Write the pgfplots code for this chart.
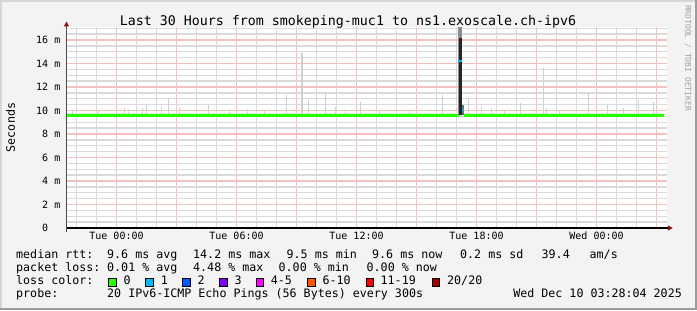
\documentclass[border=0pt]{standalone}
\usepackage{fontspec}
\setmainfont{DejaVu Sans Mono}
\usepackage{pgfplots}
\pgfplotsset{compat=1.18}
\usetikzlibrary{arrows.meta}
\definecolor{bgc}{HTML}{F3F3F3}
\definecolor{shadea}{HTML}{D6D6D6}
\definecolor{shadeb}{HTML}{9C9C9C}
\definecolor{majorgrid}{HTML}{F4C0C0}
\definecolor{minorgrid}{HTML}{DADADA}
\definecolor{arrowred}{HTML}{8E1010}
\definecolor{smoke}{HTML}{D0D0D0}
\definecolor{smokeband}{HTML}{E2E2E2}
\definecolor{medgreen}{HTML}{26FF00}
\definecolor{lossA}{HTML}{26FF00}
\definecolor{lossB}{HTML}{00B8FF}
\definecolor{lossC}{HTML}{0059FF}
\definecolor{lossD}{HTML}{7E00FF}
\definecolor{lossE}{HTML}{FF00FF}
\definecolor{lossF}{HTML}{FF5500}
\definecolor{lossG}{HTML}{FF0000}
\definecolor{lossH}{HTML}{A10000}
\definecolor{rrdgrey}{HTML}{A0A0A0}
\newcommand\tickfont{\fontsize{10bp}{12bp}\selectfont}
\newcommand\legfont{\fontsize{11.66bp}{14bp}\selectfont}
\newcommand\titlefont{\fontsize{13.3bp}{16bp}\selectfont}
\newcommand\legt[3]{\node[anchor=base west, inner sep=0pt, font=\legfont] at (#1,{310-#2}) {#3};}
\newcommand\lbox[3]{\draw[line width=0.8bp, black, fill=#3] (#1,{310-#2}) rectangle ++(7.6,-7.6);}

\pgfplotstableread{
h     b     e
-2.2  9.6   0.40
-0.9  9.6   0.35
0.0   9.6   0.35
0.4   9.6   0.60
0.6   9.6   0.50
1.3   9.6   0.60
1.5   9.6   0.90
2.25  9.6   0.70
2.6   9.6   1.40
3.15  9.6   0.70
4.6   9.6   0.90
5.65  9.6   0.40
6.55  9.6   0.50
7.4   9.6   0.40
8.5   9.6   1.70
9.275 9.6   5.30
9.6   9.6   1.30
10.45 9.6   2.00
10.95 9.6   0.70
11.45 9.6   0.50
12.2  9.6   1.15
13.15 9.6   0.35
14.65 9.6   0.40
16.3  9.6   1.70
17.6  9.6   1.40
18.25 9.6   0.70
18.75 9.6   0.65
19.4  9.6   0.35
20.2  9.6   1.00
21.35 9.6   4.00
21.5  9.6   0.60
22.15 9.6   0.35
23.6  9.6   1.90
24.55 9.6   0.90
25.35 9.6   0.60
26.1  9.6   1.30
26.85 9.6   1.10
}\smoketab

\begin{document}
\begin{tikzpicture}[x=1bp,y=1bp]
\fill[bgc] (0,0) rectangle (697,310);
\fill[shadea] (0,0) rectangle (2,310);
\fill[shadea] (0,308) rectangle (697,310);
\fill[shadeb] (0,0) rectangle (697,2);
\fill[shadeb] (695,0) rectangle (697,310);

\begin{axis}[
  at={(66.5bp,82bp)}, anchor=south west,
  scale only axis, width=600bp, height=200.9bp,
  xmin=-2.5, xmax=27.5, ymin=0, ymax=17.1,
  axis background/.style={fill=white},
  axis x line=bottom, axis y line=left,
  x axis line style={black, line width=1.3bp, shorten <=-1bp, shorten >=-6.3bp, -{Triangle[length=5bp,width=5bp,color=arrowred]}},
  y axis line style={draw=black!70, line width=1.2bp, shorten <=-3.5bp, shorten >=-5.6bp, -{Triangle[length=5bp,width=5bp,color=arrowred]}},
  grid=both,
  major grid style={draw=majorgrid, line width=1.4bp, solid},
  minor grid style={draw=minorgrid, line width=1.4bp, solid},
  xtick={0,3,...,27},
  xticklabels={Tue 00:00,,Tue 06:00,,Tue 12:00,,Tue 18:00,,Wed 00:00,},
  minor xtick={-2,-1,1,2,4,5,7,8,10,11,13,14,16,17,19,20,22,23,25,26},
  ytick={0,2,...,16},
  yticklabels={0\hphantom{\ m},2 m,4 m,6 m,8 m,10 m,12 m,14 m,16 m},
  minor ytick={0.5,1,1.5,2.5,3,3.5,4.5,5,5.5,6.5,7,7.5,8.5,9,9.5,10.5,11,11.5,12.5,13,13.5,14.5,15,15.5,16.5,17},
  major tick length=0bp, minor tick length=0bp,
  xticklabel style={font=\tickfont, anchor=base, inner sep=0pt, yshift=-11.5bp},
  yticklabel style={font=\tickfont, anchor=east, inner sep=0pt, xshift=-6bp},
]
% base smoke band
\addplot[fill=smokeband, draw=none] coordinates {(-2.5,9.5) (27.37,9.5) (27.37,9.82) (-2.5,9.82)} -- cycle;
% smoke spikes
\addplot[draw=none, mark=none, error bars/.cd, y dir=plus, y explicit, error mark=none,
  error bar style={draw=smoke, line width=1.9bp, solid}] table[x=h, y=b, y error=e] {\smoketab};
% big spike (light top part, dark core, small column after)
\addplot[draw=none, mark=none, error bars/.cd, y dir=plus, y explicit, error mark=none,
  error bar style={draw=black!45, line width=3.4bp, solid}] coordinates {(17.17,9.6) +- (0,7.7)};
\addplot[draw=none, mark=none, error bars/.cd, y dir=plus, y explicit, error mark=none,
  error bar style={draw=black!85, line width=2.8bp, solid}] coordinates {(17.18,9.6) +- (0,6.6)};
\addplot[draw=none, mark=none, error bars/.cd, y dir=plus, y explicit, error mark=none,
  error bar style={draw=black!55, line width=2bp, solid}] coordinates {(17.3,9.6) +- (0,0.9)};
% median line
\addplot[medgreen, line width=2.3bp] coordinates {(-2.5,9.57) (17.1,9.57)};
\addplot[medgreen, line width=2.3bp] coordinates {(17.36,9.57) (27.37,9.57)};
% median samples with 1 loss
\addplot[lossB, line width=2.2bp] coordinates {(17.08,14.2) (17.26,14.2)};
\addplot[lossB, line width=2.2bp] coordinates {(17.25,10.04) (17.38,10.04)};
\end{axis}

\node[anchor=base, inner sep=0pt, font=\titlefont] at (348,285) {Last 30 Hours from smokeping-muc1 to ns1.exoscale.ch-ipv6};
\node[rotate=90, inner sep=0pt, font=\legfont] at (10.5,182.5) {Seconds};
\node[rotate=-90, inner sep=0pt, font=\fontsize{8bp}{10bp}\selectfont, text=rrdgrey] at (688,252) {RRDTOOL / TOBI OETIKER};

% legend rows
\legt{16}{258.7}{median rtt:}
\legt{107}{258.7}{9.6 ms avg}
\legt{193}{258.7}{14.2 ms max}
\legt{286.5}{258.7}{9.5 ms min}
\legt{372}{258.7}{9.6 ms now}
\legt{460}{258.7}{0.2 ms sd}
\legt{541.5}{258.7}{39.4}
\legt{589.5}{258.7}{am/s}

\legt{16}{271.6}{packet loss:}
\legt{107}{271.6}{0.01 \% avg}
\legt{193}{271.6}{4.48 \% max}
\legt{278.5}{271.6}{0.00 \% min}
\legt{366.5}{271.6}{0.00 \% now}

\legt{16}{284.5}{loss color:}
\lbox{108.3}{278.6}{lossA}\legt{123.3}{284.5}{0}
\lbox{145.7}{278.6}{lossB}\legt{160.7}{284.5}{1}
\lbox{182.7}{278.6}{lossC}\legt{197.3}{284.5}{2}
\lbox{219.3}{278.6}{lossD}\legt{234.3}{284.5}{3}
\lbox{256}{278.6}{lossE}\legt{270.7}{284.5}{4-5}
\lbox{307.3}{278.6}{lossF}\legt{322.3}{284.5}{6-10}
\lbox{366}{278.6}{lossG}\legt{380.5}{284.5}{11-19}
\lbox{432}{278.6}{lossH}\legt{447}{284.5}{20/20}

\legt{16}{297.4}{probe:}
\legt{107}{297.4}{20 IPv6-ICMP Echo Pings (56 Bytes) every 300s}
\node[anchor=base east, inner sep=0pt, font=\legfont] at (682,{310-297.4}) {Wed Dec 10 03:28:04 2025};

\pgfresetboundingbox
\useasboundingbox (0,0) rectangle (697,310);
\end{tikzpicture}
\end{document}
